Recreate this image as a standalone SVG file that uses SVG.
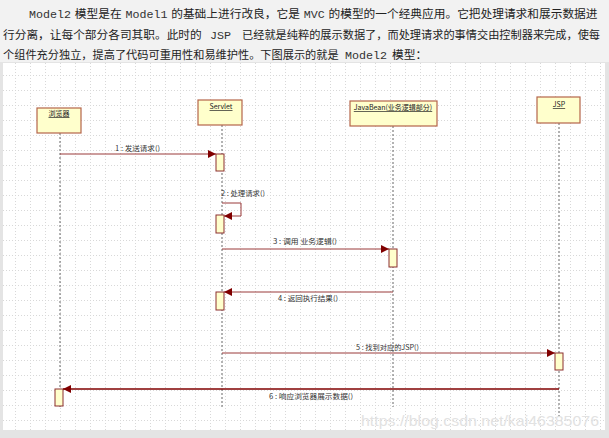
<svg xmlns="http://www.w3.org/2000/svg" width="609" height="438" viewBox="0 0 609 438">
<defs>
<style>
.intro{font-family:"Noto Sans CJK SC","Noto Sans",sans-serif;font-size:11.7px;fill:#222}
.mono{font-family:"Liberation Mono","DejaVu Sans Mono",monospace;font-size:11.7px;fill:#333}
.obj{fill:#ffffcc;stroke:#b5654a;stroke-width:1.2}
.olbl{font-family:"Noto Sans CJK SC","Liberation Sans",sans-serif;font-size:7px;fill:#222;text-decoration:underline;text-anchor:middle}
.life{stroke:#666;stroke-width:1;stroke-dasharray:2 2;fill:none}
.act{fill:#ffffcc;stroke:#8b2f2f;stroke-width:1}
.msg{stroke:#9a3a3a;stroke-width:1;fill:none}
.msgd{stroke:#800000;stroke-width:1.5;fill:none}
.mlbl{font-family:"Noto Sans CJK SC","Liberation Sans",sans-serif;font-size:7px;fill:#333}
</style>
<marker id="ah" viewBox="0 0 10 10" refX="10" refY="5" markerWidth="8" markerHeight="8" markerUnits="userSpaceOnUse" orient="auto">
<path d="M0,0 L10,5 L0,10 z" fill="#800000"/>
</marker>
<pattern id="grid" width="15" height="15" patternUnits="userSpaceOnUse">
<path d="M0,0.5 H15 M0.5,0 V15" stroke="#d8d8d8" stroke-width="1" stroke-dasharray="1 2" fill="none"/>
</pattern>
</defs>
<rect x="0" y="0" width="609" height="438" fill="#f2f2f2"/>
<rect x="0" y="62" width="609" height="376" fill="#e4e4e4"/>
<rect x="3" y="63" width="602" height="367" fill="#ffffff"/>
<rect x="3" y="63" width="602" height="367" fill="url(#grid)"/>

<g id="intro-text">
<text class="mono" x="29" y="18" textLength="42" lengthAdjust="spacingAndGlyphs">Model2</text>
<text class="intro" x="74.8" y="18" textLength="46.8" lengthAdjust="spacingAndGlyphs">模型是在</text>
<text class="mono" x="125.4" y="18" textLength="42" lengthAdjust="spacingAndGlyphs">Model1</text>
<text class="intro" x="171.2" y="18" textLength="128.7" lengthAdjust="spacingAndGlyphs">的基础上进行改良，它是</text>
<text class="mono" x="303.7" y="18" textLength="21" lengthAdjust="spacingAndGlyphs">MVC</text>
<text class="intro" x="328.5" y="18" textLength="269" lengthAdjust="spacingAndGlyphs">的模型的一个经典应用。它把处理请求和展示数据进</text>

<text class="intro" x="3" y="39">行分离，让每个部分各司其职。此时的</text>
<text class="mono" x="210" y="39">JSP</text>
<text class="intro" x="242" y="39" style="font-size:11.2px">已经就是纯粹的展示数据了，而处理请求的事情交由控制器来完成，使每</text>

<text class="intro" x="3" y="59" style="font-size:11.2px">个组件充分独立，提高了代码可重用性和易维护性。下图展示的就是</text>
<text class="mono" x="345" y="59">Model2</text>
<text class="intro" x="392" y="59">模型：</text>
</g>

<g id="browser">
<line class="life" x1="60" y1="133" x2="60" y2="407"/>
<rect class="obj" x="37" y="108" width="44" height="25"/>
<text class="olbl" x="59" y="116">浏览器</text>
</g>
<g id="servlet">
<line class="life" x1="222" y1="125" x2="222" y2="407"/>
<rect class="obj" x="198" y="100" width="44" height="25"/>
<text class="olbl" x="221" y="109">Servlet</text>
</g>
<g id="javabean">
<line class="life" x1="393" y1="126" x2="393" y2="407"/>
<rect class="obj" x="350" y="101" width="87" height="25"/>
<text class="olbl" x="393" y="110">JavaBean(业务逻辑部分)</text>
</g>
<g id="jsp">
<line class="life" x1="559" y1="123" x2="559" y2="418"/>
<rect class="obj" x="537" y="97" width="43" height="26"/>
<text class="olbl" x="559" y="107">JSP</text>
</g>

<g id="activations">
<rect class="act" x="216" y="154" width="8" height="17"/>
<rect class="act" x="216" y="215" width="8" height="18"/>
<rect class="act" x="389" y="249" width="8" height="18"/>
<rect class="act" x="216" y="292" width="8" height="18"/>
<rect class="act" x="555" y="353" width="8" height="17"/>
<rect class="act" x="55" y="389" width="8" height="17"/>
</g>

<g id="connectors">
<line class="msg" x1="60" y1="154" x2="216" y2="154" marker-end="url(#ah)"/>
<polyline class="msg" points="222,203 241,203 241,216 224,216" marker-end="url(#ah)"/>
<line class="msg" x1="222" y1="249" x2="389" y2="249" marker-end="url(#ah)"/>
<line class="msg" x1="393" y1="292" x2="224" y2="292" marker-end="url(#ah)"/>
<line class="msg" x1="222" y1="353" x2="555" y2="353" marker-end="url(#ah)"/>
<line class="msgd" x1="559" y1="389" x2="63" y2="389" marker-end="url(#ah)"/>
<text class="mlbl" x="115" y="151" textLength="45" lengthAdjust="spacingAndGlyphs">1 : 发送请求()</text>
<text class="mlbl" x="221" y="196" textLength="44" lengthAdjust="spacingAndGlyphs">2 : 处理请求()</text>
<text class="mlbl" x="273" y="244" textLength="64" lengthAdjust="spacingAndGlyphs">3 : 调用 业务逻辑()</text>
<text class="mlbl" x="278" y="301" textLength="60" lengthAdjust="spacingAndGlyphs">4 : 返回执行结果()</text>
<text class="mlbl" x="356" y="350" textLength="63" lengthAdjust="spacingAndGlyphs">5 : 找到对应的JSP()</text>
<text class="mlbl" x="269" y="399" textLength="84" lengthAdjust="spacingAndGlyphs">6 : 响应浏览器展示数据()</text>
</g>

<text x="361" y="426" font-family="Liberation Sans, Arial, sans-serif" font-size="15" fill="#e2e2e2" textLength="238" lengthAdjust="spacingAndGlyphs">https://blog.csdn.net/kai46385076</text>
</svg>
